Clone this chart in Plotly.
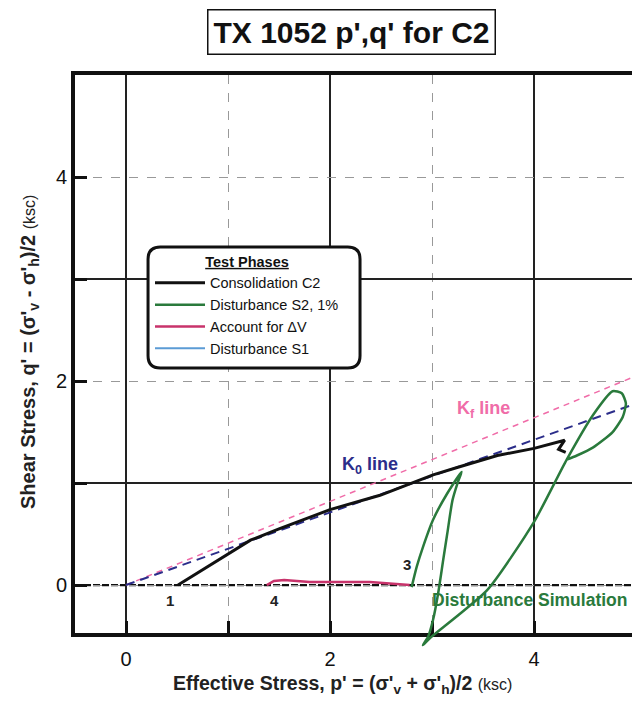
import plotly.graph_objects as go

# ---------------- data ----------------
cons_p = [0.51, 0.75, 1.00, 1.22, 1.50, 2.00, 2.49, 3.01, 3.27, 3.64, 4.00, 4.30, 4.24, 4.31]
cons_q = [0.00, 0.15, 0.30, 0.44, 0.55, 0.74, 0.88, 1.08, 1.16, 1.27, 1.34, 1.42, 1.33, 1.30]

dist_p = [2.80, 2.85, 2.91, 3.01, 3.15, 3.29, 3.25, 3.20, 3.15, 3.11, 3.06, 3.01, 2.96, 2.91,
          2.98, 3.54, 4.00, 4.32, 4.58, 4.77, 4.86, 4.90, 4.87, 4.77, 4.58, 4.42, 4.32]
dist_q = [-0.02, 0.18, 0.37, 0.64, 0.90, 1.11, 1.00, 0.83, 0.51, 0.25, -0.08, -0.34, -0.51, -0.59,
          -0.52, -0.05, 0.62, 1.23, 1.67, 1.90, 1.88, 1.78, 1.65, 1.50, 1.35, 1.27, 1.23]

dv_p = [1.38, 1.45, 1.55, 1.80, 2.39, 2.78]
dv_q = [0.00, 0.04, 0.05, 0.03, 0.03, 0.00]

s1_p = [None]
s1_q = [None]

k0_p = [0.0, 5.0]
k0_q = [0.0, 1.78]
kf_p = [0.0, 5.0]
kf_q = [0.0, 2.05]

point_labels = ["1", "3", "4"]
point_p = [0.43, 2.75, 1.46]
point_q = [-0.15, 0.20, -0.15]

x_tickvals = [0, 2, 4]
y_tickvals = [0, 2, 4]
minor_vals = [1, 3]

# ---------------- figure ----------------
FONT = "Arial, Liberation Sans, sans-serif"
PW = 557.0   # plot-area width in px (75..632)
PH = 577.0   # plot-area height in px (75..652)

def px_x(px):
    return (px - 75) / PW

def px_y(py):
    return (652 - py) / PH

fig = go.Figure()

fig.add_trace(go.Scatter(x=kf_p, y=kf_q, mode="lines", showlegend=False,
                         line=dict(color="#f06ca8", width=1.5, dash="6px,5px"), hoverinfo="skip"))
fig.add_trace(go.Scatter(x=k0_p, y=k0_q, mode="lines", showlegend=False,
                         line=dict(color="#2b2d8a", width=2, dash="9px,6px"), hoverinfo="skip"))

fig.add_trace(go.Scatter(x=cons_p, y=cons_q, mode="lines", name="Consolidation C2",
                         line=dict(color="#111111", width=3)))
fig.add_trace(go.Scatter(x=dist_p, y=dist_q, mode="lines", name="Disturbance S2, 1%",
                         line=dict(color="#2a7a3c", width=2.5, shape="spline", smoothing=0.6),
                         xaxis="x2", yaxis="y2"))
fig.add_trace(go.Scatter(x=dv_p, y=dv_q, mode="lines", name="Account for \u0394V",
                         line=dict(color="#c8336b", width=2.5)))
fig.add_trace(go.Scatter(x=s1_p, y=s1_q, mode="lines", name="Disturbance S1",
                         line=dict(color="#5b9bd5", width=2)))

axis_font = dict(family=FONT, size=20, color="#111111")

fig.update_layout(
    width=632, height=702,
    margin=dict(l=75, r=0, t=75, b=50),
    paper_bgcolor="white", plot_bgcolor="rgba(0,0,0,0)",
    font=dict(family=FONT, color="#111111"),
    xaxis=dict(domain=[0, 1], range=[-0.5, 4.96], anchor="y",
               tickvals=x_tickvals, tickfont=axis_font, ticklabelstandoff=5,
               ticks="inside", ticklen=12, tickwidth=3, tickcolor="#111",
               showline=True, linewidth=4, linecolor="#111", mirror=True,
               showgrid=True, gridcolor="#222222", gridwidth=1.7, griddash="solid",
               zeroline=False,
               minor=dict(tickmode="array", tickvals=minor_vals, ticks="inside",
                          ticklen=12, tickwidth=3, tickcolor="#111", showgrid=True,
                          gridcolor="#999999", gridwidth=1, griddash="dash")),
    yaxis=dict(domain=[19/577, 1], range=[-0.47, 5.0], anchor="x",
               tickvals=y_tickvals, tickfont=axis_font,
               ticks="inside", ticklen=12, tickwidth=3, tickcolor="#111",
               showline=True, linewidth=4, linecolor="#111",
               showgrid=True, gridcolor="#999999", gridwidth=1, griddash="dash",
               zeroline=False,
               minor=dict(tickmode="array", tickvals=minor_vals, ticks="inside",
                          ticklen=12, tickwidth=3, tickcolor="#111", showgrid=True,
                          gridcolor="#222222", gridwidth=1.7, griddash="solid")),
    xaxis2=dict(domain=[0, 1], range=[-0.5, 4.96], anchor="y2", visible=False),
    yaxis2=dict(domain=[0, 1], range=[-0.47 - 19/102, 5.0], anchor="x2", visible=False),
    legend=dict(x=px_x(150), y=px_y(248), xanchor="left", yanchor="top",
                bgcolor="rgba(0,0,0,0)", borderwidth=0,
                font=dict(family=FONT, size=14.5, color="#111"),
                itemwidth=50, tracegroupgap=0,
                title=dict(text="<b><span style='text-decoration:underline'>Test Phases</span></b>",
                           side="top center", font=dict(family=FONT, size=14.5, color="#111"))),
)

# y = 0 reference line (thick dashed black)
fig.add_shape(type="line", xref="x", yref="y", x0=-0.5, x1=4.96, y0=0, y1=0,
              line=dict(color="#111", width=2.2, dash="7px,2px"), layer="below")

# legend rounded box
x0, x1, y0, y1, r = 0.216, 2.294, 2.127, 3.314, 0.12
path = (f"M{x0+r},{y1} L{x1-r},{y1} Q{x1},{y1} {x1},{y1-r} L{x1},{y0+r} "
        f"Q{x1},{y0} {x1-r},{y0} L{x0+r},{y0} Q{x0},{y0} {x0},{y0+r} "
        f"L{x0},{y1-r} Q{x0},{y1} {x0+r},{y1} Z")
fig.add_shape(type="path", xref="x", yref="y", path=path,
              line=dict(color="#111", width=3), fillcolor="white", layer="above")

# title box
fig.add_annotation(xref="paper", yref="paper", x=px_x(351), y=px_y(32),
                   xanchor="center", yanchor="middle", showarrow=False,
                   text="<b>TX 1052 p',q' for C2</b>",
                   font=dict(family=FONT, size=30, color="#111"),
                   bordercolor="#111", borderwidth=1.5, borderpad=5, bgcolor="white")

# axis titles
fig.add_annotation(xref="paper", yref="paper", x=px_x(342), y=px_y(684),
                   xanchor="center", yanchor="middle", showarrow=False,
                   text="<b>Effective Stress, p' = (\u03c3'<sub>v</sub> + \u03c3'<sub>h</sub>)/2</b>"
                        " <span style='font-size:16px'>(ksc)</span>",
                   font=dict(family=FONT, size=19.5, color="#222"))
fig.add_annotation(xref="paper", yref="paper", x=px_x(30), y=px_y(352),
                   xanchor="center", yanchor="middle", showarrow=False, textangle=-90,
                   text="<b>Shear Stress, q' = (\u03c3'<sub>v</sub> - \u03c3'<sub>h</sub>)/2</b>"
                        " <span style='font-size:16px'>(ksc)</span>",
                   font=dict(family=FONT, size=20, color="#222"))

# line labels
fig.add_annotation(x=2.39, y=1.17, xref="x", yref="y", showarrow=False,
                   text="<b>K<sub>0</sub> line</b>",
                   font=dict(family=FONT, size=18, color="#2b2d8a"))
fig.add_annotation(x=3.5, y=1.72, xref="x", yref="y", showarrow=False,
                   text="<b>K<sub>f</sub> line</b>",
                   font=dict(family=FONT, size=18, color="#f06ca8"))
fig.add_annotation(x=2.98, y=-0.15, xref="x", yref="y", showarrow=False, xanchor="left",
                   text="<b>Disturbance Simulation</b>",
                   font=dict(family=FONT, size=17.5, color="#2a7a3c"))

for lab, px, qy in zip(point_labels, point_p, point_q):
    fig.add_annotation(x=px, y=qy, xref="x", yref="y", showarrow=False,
                       text=f"<b>{lab}</b>", font=dict(family=FONT, size=15, color="#222"))

fig.write_html("out.html", config={"displayModeBar": False},
               post_script="document.body.style.margin='0px';")
